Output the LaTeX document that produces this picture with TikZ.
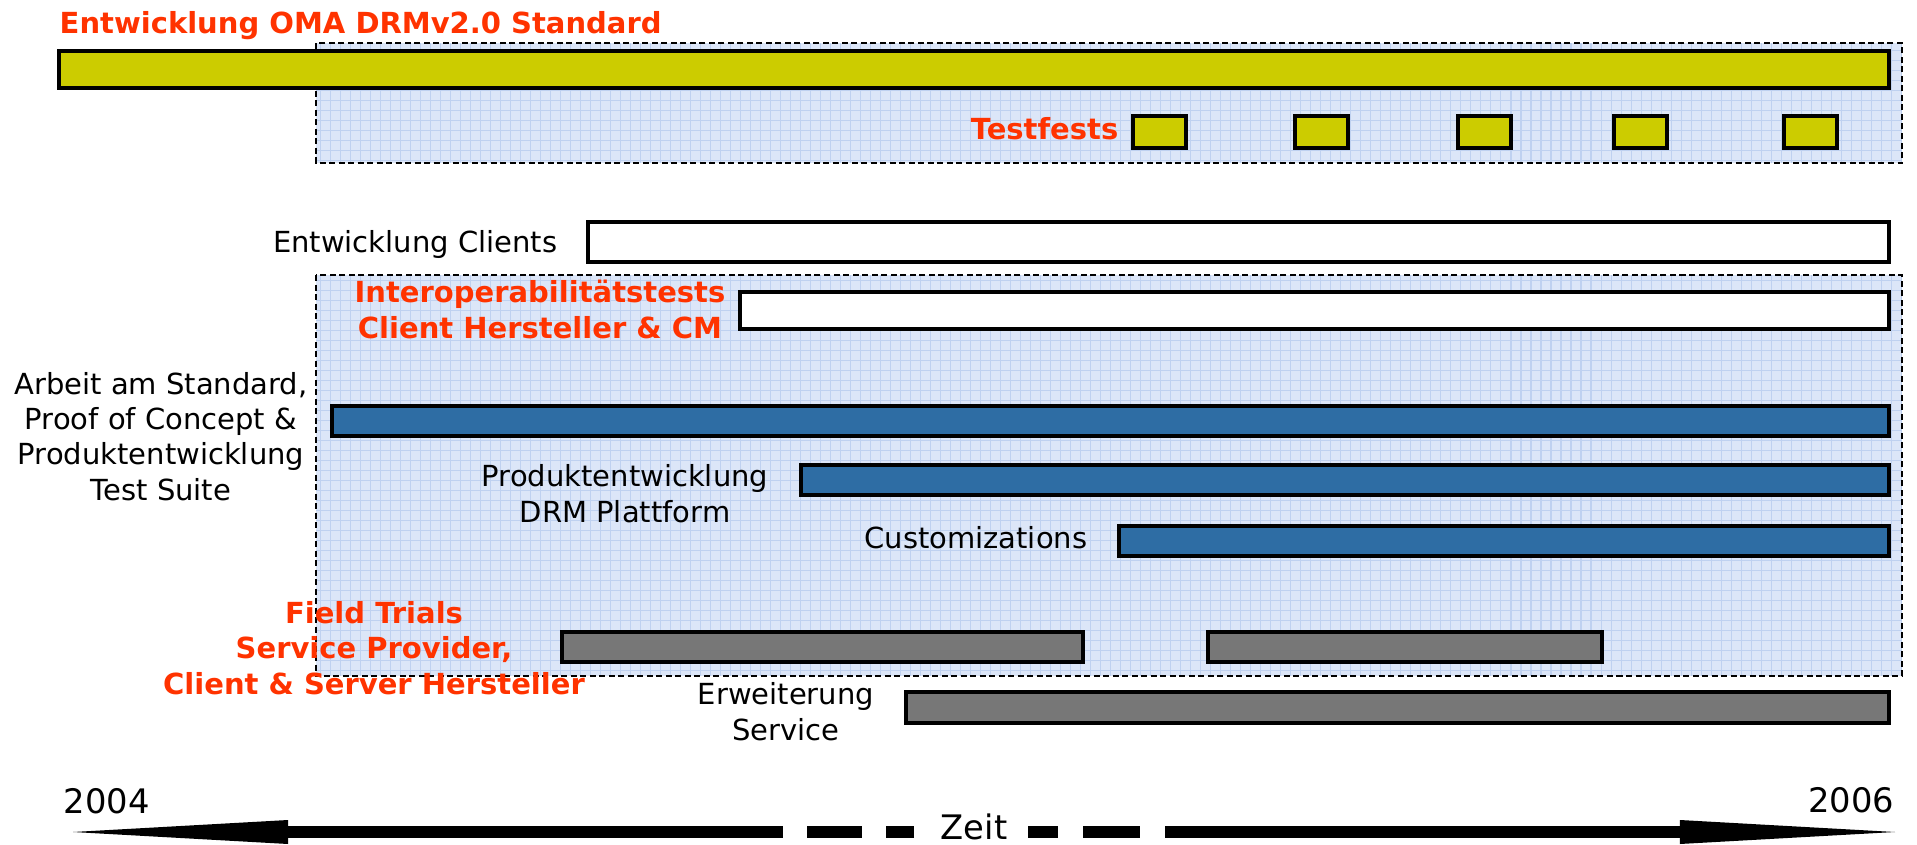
\documentclass[tikz,border=0pt]{standalone}
\usepackage{fontspec}
\setmainfont{DejaVu Sans}
\usepackage{tikz}
\usetikzlibrary{arrows.meta}
\definecolor{OmaYellow}{HTML}{CCCC00}
\definecolor{DrmBlue}{HTML}{2E6DA4}
\definecolor{TrialGray}{HTML}{777777}
\definecolor{SignalRed}{HTML}{FF3300}
\definecolor{PhaseBlue}{HTML}{DCE6F8}
\definecolor{PhaseGrid}{HTML}{BFD1F0}

\tikzset{
  bar/.style={draw=black, line width=0.9pt},
  phase/.style={draw=black, line width=0.55pt, dash pattern=on 0.06cm off 0.035cm},
  gitter/.style={PhaseGrid, line width=0.3pt, step=0.1cm},
  beschriftung/.style={inner sep=0pt, align=center, font=\fontsize{8.25pt}{9.96pt}\selectfont},
  rotbeschriftung/.style={beschriftung, text=SignalRed, font=\fontsize{8.25pt}{9.96pt}\selectfont\bfseries},
  jahr/.style={inner sep=0pt, font=\fontsize{9.6pt}{11pt}\selectfont},
  zeitpfeil/.style={line width=0.12cm, -{Triangle[length=2.15cm, width=0.24cm, line width=0pt]}}
}

\begin{document}
\begin{tikzpicture}[x=0.01cm, y=-0.01cm]
  \useasboundingbox (0,0) rectangle (1917,845);

  % hinterlegte Phasen
  \fill[PhaseBlue] (316,43) rectangle (1902,163);
  \fill[PhaseBlue] (316,275) rectangle (1902,676);
  \begin{scope}
    \clip (316,43) rectangle (1902,163) (316,275) rectangle (1902,676);
    \draw[gitter] (316,43) grid (1902,676);
  \end{scope}
  \draw[phase] (316,43) rectangle (1902,163);
  \draw[phase] (316,275) rectangle (1902,676);

  % Standard und Testfests
  \draw[bar, fill=OmaYellow] (59,51) rectangle (1889,88);
  \foreach \x in {1133,1295,1458,1614,1784}
    \draw[bar, fill=OmaYellow] (\x,116) rectangle ++(53,32);

  % Clients
  \draw[bar, fill=white] (588,222) rectangle (1889,262);
  \draw[bar, fill=white] (740,292) rectangle (1889,329);

  % Plattform
  \draw[bar, fill=DrmBlue] (332,406) rectangle (1889,436);
  \draw[bar, fill=DrmBlue] (801,465) rectangle (1889,495);
  \draw[bar, fill=DrmBlue] (1119,526) rectangle (1889,556);

  % Field Trials und Service
  \draw[bar, fill=TrialGray] (562,632) rectangle (1083,662);
  \draw[bar, fill=TrialGray] (1208,632) rectangle (1602,662);
  \draw[bar, fill=TrialGray] (906,692) rectangle (1889,723);

  % Beschriftungen (mehrzeilig: base = letzte Zeile)
  \node[rotbeschriftung, anchor=base west] (standard) at (59,33) {Entwicklung OMA DRMv2.0 Standard};
  \node[rotbeschriftung, anchor=base east] (testfests) at (1119,139) {Testfests};
  \node[beschriftung, anchor=base east] (clients) at (558,252) {Entwicklung Clients};
  \node[rotbeschriftung, anchor=base] (interop) at (540,338) {Interoperabilitätstests\\Client Hersteller \& CM};
  \node[beschriftung, anchor=base] (arbeit) at (161,500) {Arbeit am Standard,\\Proof of Concept \&\\Produktentwicklung\\Test Suite};
  \node[beschriftung, anchor=base] (plattform) at (625,522) {Produktentwicklung\\DRM Plattform};
  \node[beschriftung, anchor=base east] (custom) at (1088,548) {Customizations};
  \node[rotbeschriftung, anchor=base] (trials) at (374,694) {Field Trials\\Service Provider,\\Client \& Server Hersteller};
  \node[beschriftung, anchor=base] (erweiterung) at (786,740) {Erweiterung\\Service};

  % Zeitachse
  \node[jahr, anchor=base west] (von) at (63,813) {2004};
  \node[jahr, anchor=base east] (bis) at (1895,812) {2006};
  \node[jahr, anchor=base] (zeit) at (974,839) {Zeit};
  \coordinate (zl) at (914,832);
  \coordinate (zr) at (1028,832);
  \coordinate (tl) at (73,832);
  \coordinate (tr) at (1895,832);
  \draw[zeitpfeil, dash pattern=on 0.28cm off 0.24cm on 0.55cm off 0.24cm on 20cm] (zl) -- (tl);
  \draw[zeitpfeil, dash pattern=on 0.30cm off 0.25cm on 0.57cm off 0.25cm on 20cm] (zr) -- (tr);
\end{tikzpicture}
\end{document}
